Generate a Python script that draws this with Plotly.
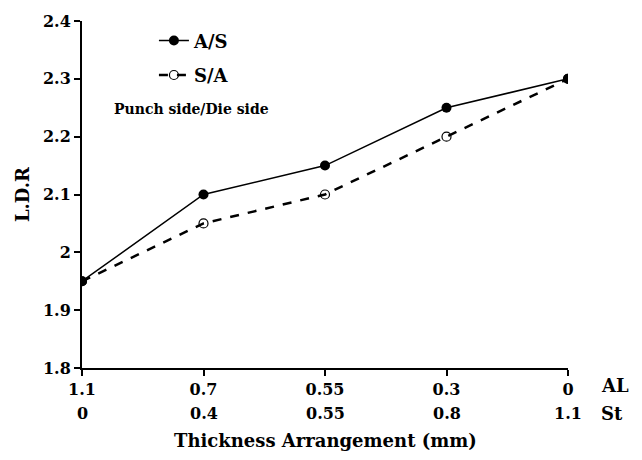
import plotly.graph_objects as go

al_labels = ["1.1", "0.7", "0.55", "0.3", "0"]
st_labels = ["0", "0.4", "0.55", "0.8", "1.1"]
as_values = [1.95, 2.10, 2.15, 2.25, 2.30]
sa_values = [1.95, 2.05, 2.10, 2.20, 2.30]
y_ticks = [1.8, 1.9, 2.0, 2.1, 2.2, 2.3, 2.4]
y_ticktext = ["1.8", "1.9", "2", "2.1", "2.2", "2.3", "2.4"]

xs = list(range(len(al_labels)))
FONT = "DejaVu Serif"

fig = go.Figure()
fig.add_trace(go.Scatter(
    x=xs, y=sa_values, mode="lines+markers", name="<b>S/A</b>",
    line=dict(color="black", width=2.5, dash="dash"),
    marker=dict(symbol="circle-open", size=9, color="black", line=dict(width=1.2)),
    legendrank=2, legendgroup="b"))
fig.add_trace(go.Scatter(
    x=xs, y=as_values, mode="lines+markers", name="<b>A/S</b>",
    line=dict(color="black", width=1.5),
    marker=dict(symbol="circle", size=10, color="black"),
    legendrank=1, legendgroup="a"))

def txt(s, size):
    return dict(text="<b>%s</b>" % s, showarrow=False, font=dict(family=FONT, size=size, color="black"))

annotations = []
for i, t in enumerate(st_labels):
    a = txt(t, 16)
    a.update(x=i, y=0, xref="x", yref="paper", yanchor="middle", yshift=-45)
    annotations.append(a)
a = txt("AL", 18); a.update(x=1, y=0, xref="paper", yref="paper", xanchor="left", xshift=31, yanchor="middle", yshift=-17)
annotations.append(a)
a = txt("St", 18); a.update(x=1, y=0, xref="paper", yref="paper", xanchor="left", xshift=31, yanchor="middle", yshift=-45)
annotations.append(a)
a = txt("Thickness Arrangement (mm)", 18); a.update(x=0.5, y=0, xref="paper", yref="paper", yanchor="middle", yshift=-72)
annotations.append(a)
a = txt("Punch side/Die side", 14); a.update(x=0.062, y=0.745, xref="paper", yref="paper", xanchor="left", yanchor="middle")
annotations.append(a)

fig.update_layout(
    width=642, height=460,
    margin=dict(l=82, r=74, t=12, b=92),
    paper_bgcolor="white", plot_bgcolor="white",
    font=dict(family=FONT, size=16, color="black"),
    showlegend=True,
    legend=dict(x=0.148, y=0.996, xanchor="left", yanchor="top", bgcolor="rgba(0,0,0,0)",
                font=dict(family=FONT, size=18, color="black"), tracegroupgap=8,
                itemwidth=30),
    annotations=annotations,
)

fig.update_xaxes(
    range=[0, 4], tickvals=xs, ticktext=["<b>%s</b>" % t for t in al_labels],
    showgrid=False, zeroline=False, showline=True, linecolor="black", linewidth=2,
    ticks="outside", ticklen=6, tickwidth=2, tickcolor="black",
    tickfont=dict(family=FONT, size=16, color="black"))
fig.update_yaxes(
    range=[1.8, 2.4], tickvals=y_ticks, ticktext=["<b>%s</b>" % t for t in y_ticktext],
    showgrid=False, zeroline=False, showline=True, linecolor="black", linewidth=2,
    ticks="outside", ticklen=6, tickwidth=1.5, tickcolor="black",
    tickfont=dict(family=FONT, size=16, color="black"),
    title=dict(text="<b>L.D.R</b>", font=dict(family=FONT, size=18, color="black"), standoff=9))

fig.write_html("out.html")
